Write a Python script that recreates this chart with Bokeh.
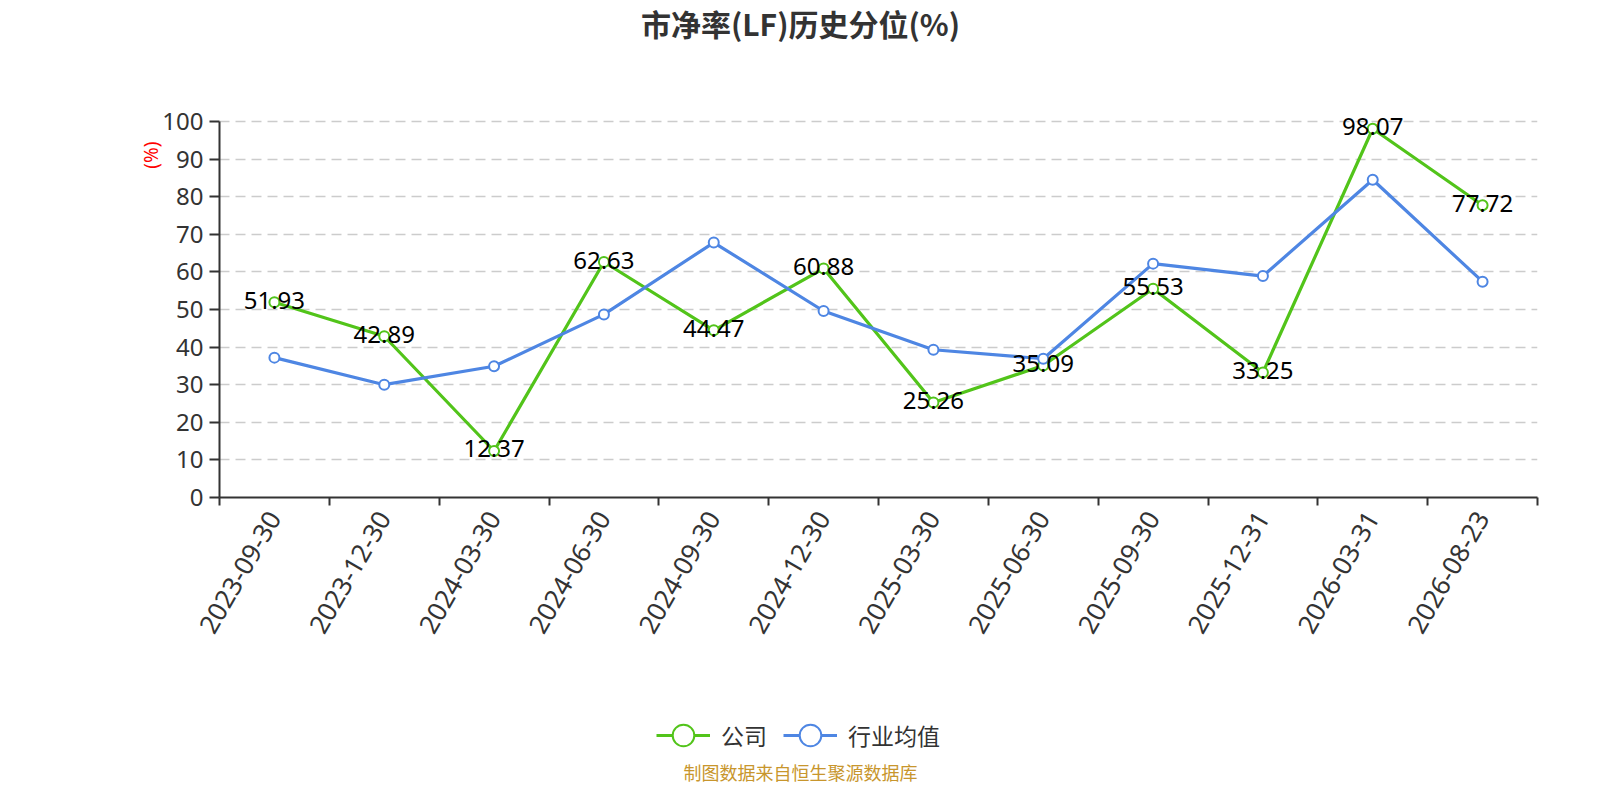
import math
from bokeh.plotting import figure
from bokeh.layouts import column
from bokeh.models import (ColumnDataSource, FixedTicker, Range1d, Label, LabelSet,
                          Legend, LegendItem, Title)
from bokeh.embed import file_html
from bokeh.resources import INLINE
from bokeh.core.properties import value

# ---------------- data ----------------
dates = ["2023-09-30", "2023-12-30", "2024-03-30", "2024-06-30", "2024-09-30",
         "2024-12-30", "2025-03-30", "2025-06-30", "2025-09-30", "2025-12-31",
         "2026-03-31", "2026-08-23"]
company = [51.93, 42.89, 12.37, 62.63, 44.47, 60.88, 25.26, 35.09, 55.53, 33.25, 98.07, 77.72]
industry = [37.2, 30.0, 34.9, 48.7, 67.8, 49.6, 39.3, 36.9, 62.2, 58.9, 84.5, 57.4]
y_ticks = [0, 10, 20, 30, 40, 50, 60, 70, 80, 90, 100]
series_names = ["公司", "行业均值"]
title_text = "市净率(LF)历史分位(%)"
unit_text = "(%)"
footer_text = "制图数据来自恒生聚源数据库"

GREEN = "#52C41A"
BLUE = "#4E86E3"
DARK = "#333333"
NAN = float("nan")

# ---------------- layout ----------------
W = 1584
H1, H2 = 648, 136
FL, FR = 219, 1537          # frame left / right (px)
BOT = 151                   # bottom border of main figure
FB = H1 - BOT               # frame bottom (px) = y of value 0
PX_PER_UNIT = 3.76
Y_TOP = FB / PX_PER_UNIT    # frame reaches the top edge of the figure
n = len(dates)

def dx(px):
    return (px - FL) / (FR - FL) * n

def dy(py):
    return (FB - py) / PX_PER_UNIT

p = figure(width=W, height=H1, output_backend="svg", toolbar_location=None,
           title=None, x_range=Range1d(0, n), y_range=Range1d(0, Y_TOP),
           min_border_left=FL, min_border_right=W - FR,
           min_border_top=0, min_border_bottom=BOT)
p.outline_line_color = None
p.background_fill_color = "white"
p.border_fill_color = "white"

centers = [i + 0.5 for i in range(n)]
bounds = [float(i) for i in range(n + 1)]

# grid
p.xgrid.visible = False
p.ygrid.ticker = FixedTicker(ticks=y_ticks)
p.ygrid.grid_line_color = "#cccccc"
p.ygrid.grid_line_dash = "10 6"
p.ygrid.grid_line_width = 1.5

# y axis
ya = p.yaxis[0]
ya.ticker = FixedTicker(ticks=y_ticks)
ya.bounds = (0, 100)
ya.axis_line_color = DARK
ya.axis_line_width = 2
ya.major_tick_line_color = DARK
ya.major_tick_line_width = 2
ya.major_tick_out = 10
ya.major_tick_in = 0
ya.minor_tick_line_color = None
ya.major_label_standoff = 6
ya.major_label_text_font = "Noto Sans"
ya.major_label_text_font_size = "24px"
ya.major_label_text_color = DARK

# x axis
xa = p.xaxis[0]
xa.ticker = FixedTicker(ticks=centers, minor_ticks=bounds)
xa.major_label_overrides = {c: d for c, d in zip(centers, dates)}
xa.axis_line_color = DARK
xa.axis_line_width = 2
xa.major_tick_line_color = None
xa.minor_tick_line_color = DARK
xa.minor_tick_line_width = 2
xa.minor_tick_out = 8
xa.minor_tick_in = 0
xa.major_label_orientation = math.pi / 3
xa.major_label_standoff = 8
xa.major_label_text_font = "Noto Sans"
xa.major_label_text_font_size = "26px"
xa.major_label_text_color = DARK

# series
src = ColumnDataSource(dict(x=centers, company=company, industry=industry,
                            label=["%.2f" % v for v in company]))

p.line("x", "company", source=src, line_color=GREEN, line_width=3.2)
p.scatter("x", "company", source=src, size=10, line_color=GREEN,
          line_width=2, fill_color="white")
p.line("x", "industry", source=src, line_color=BLUE, line_width=3.2)
p.scatter("x", "industry", source=src, size=10, line_color=BLUE,
          line_width=2, fill_color="white")

labels = LabelSet(x="x", y="company", text="label", source=src,
                  text_align="center", text_baseline="middle", y_offset=2,
                  text_font=value("Noto Sans"), text_font_size="24px",
                  text_color="#000000")
p.add_layout(labels)

# title (inside the frame area above the 100 line)
p.add_layout(Label(x=dx(800), y=dy(22), text=title_text, text_align="center",
                   text_baseline="middle", text_font="Noto Sans CJK SC",
                   text_font_size="30px", text_font_style="bold", text_color=DARK))

# unit label left of the y axis
p.add_layout(Title(text=unit_text, align="right", offset=141, vertical_align="top",
                   standoff=-13, text_font="Noto Sans", text_font_size="19px",
                   text_font_style="normal", text_color="#ff0000"), "left")

# ---------------- bottom strip: legend + footer ----------------
q = figure(width=W, height=H2, output_backend="svg", toolbar_location=None,
           title=None, x_axis_type=None, y_axis_type=None,
           x_range=Range1d(FL, FR), y_range=Range1d(0, H2),
           min_border_left=FL, min_border_right=W - FR,
           min_border_top=0, min_border_bottom=0)
q.outline_line_color = None
q.background_fill_color = "white"
q.border_fill_color = "white"
q.xgrid.visible = False
q.ygrid.visible = False

# legend proxies (no visible data)
lg = q.line(x=[NAN, NAN], y=[NAN, NAN], line_color=GREEN, line_width=3)
sg = q.scatter(x=[NAN], y=[NAN], size=10, line_color=GREEN, line_width=2, fill_color="white")
lb = q.line(x=[NAN, NAN], y=[NAN, NAN], line_color=BLUE, line_width=3)
sb = q.scatter(x=[NAN], y=[NAN], size=10, line_color=BLUE, line_width=2, fill_color="white")

legend = Legend(items=[LegendItem(label=series_names[0], renderers=[lg, sg]),
                       LegendItem(label=series_names[1], renderers=[lb, sb])],
                orientation="horizontal", location=(656 - FL, 21))
legend.border_line_color = None
legend.background_fill_alpha = 0
legend.padding = 0
legend.margin = 0
legend.spacing = 16
legend.label_standoff = 11
legend.glyph_width = 54
legend.glyph_height = 56
legend.label_height = 56
legend.label_text_font = "Noto Sans CJK SC"
legend.label_text_font_size = "23px"
legend.label_text_color = DARK
q.add_layout(legend)

q.add_layout(Label(x=800, y=13, text=footer_text,
                   text_align="center", text_baseline="middle",
                   text_font="Noto Sans CJK SC", text_font_size="18px",
                   text_color="#C8962D"))

layout = column(p, q, spacing=0)
open("out.html", "w").write(file_html(layout, INLINE))
